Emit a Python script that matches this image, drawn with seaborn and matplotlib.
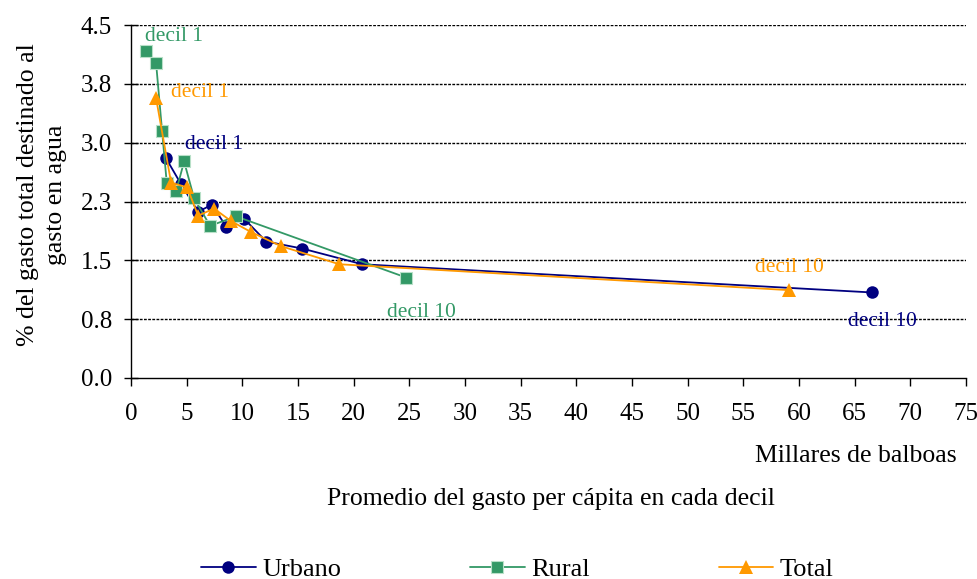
import matplotlib
matplotlib.use("Agg")
import matplotlib.pyplot as plt
import seaborn as sns
import pandas as pd

urbano_x = [3.15, 4.5, 6.03, 7.28, 8.54, 10.16, 12.14, 15.38, 20.77, 66.6]
urbano_y = [2.80, 2.47, 2.12, 2.21, 1.93, 2.03, 1.74, 1.65, 1.45, 1.09]
rural_x = [1.35, 2.25, 2.79, 3.21, 4.05, 4.77, 5.67, 7.10, 9.44, 24.73]
rural_y = [4.17, 4.02, 3.15, 2.49, 2.38, 2.76, 2.29, 1.94, 2.06, 1.28]
total_x = [2.25, 3.60, 5.04, 6.03, 7.46, 8.99, 10.79, 13.49, 18.71, 59.1]
total_y = [3.57, 2.49, 2.43, 2.07, 2.16, 2.00, 1.86, 1.68, 1.45, 1.12]

series_names = ["Urbano", "Rural", "Total"]
yticks = [0.0, 0.75, 1.5, 2.25, 3.0, 3.75, 4.5]
ytick_labels = ["0.0", "0.8", "1.5", "2.3", "3.0", "3.8", "4.5"]
xticks = list(range(0, 80, 5))

sns.set_theme(style="white")
plt.rcParams['font.family'] = ['Liberation Serif', 'DejaVu Serif']
plt.rcParams['text.color'] = 'black'
plt.rcParams['axes.labelcolor'] = 'black'
plt.rcParams['xtick.color'] = 'black'
plt.rcParams['ytick.color'] = 'black'

colors = {"Urbano": "#000080", "Rural": "#339966", "Total": "#FF9900"}
markers = {"Urbano": "o", "Rural": "s", "Total": "^"}
msize = {"Urbano": 9.0, "Rural": 8.4, "Total": 10.0}

data = {"Urbano": (urbano_x, urbano_y), "Rural": (rural_x, rural_y), "Total": (total_x, total_y)}

fig = plt.figure(figsize=(9.78, 5.79), dpi=100)
ax = fig.add_axes([131 / 978, (579 - 378) / 579, (966 - 131) / 978, (378 - 25) / 579])

for name in series_names:
    xs, ys = data[name]
    df = pd.DataFrame({"x": xs, "y": ys})
    mec = "#b8e0c8" if name == "Rural" else colors[name]
    sns.lineplot(data=df, x="x", y="y", ax=ax, sort=False, color=colors[name],
                 marker=markers[name], markersize=msize[name], markeredgecolor=mec,
                 markeredgewidth=0.8 if name == "Rural" else 0, linewidth=1.3, label=name,
                 estimator=None)

ax.set_xlim(0, 75)
ax.set_ylim(0, 4.5)
ax.set_xticks(xticks)
ax.set_xticklabels([str(v) for v in xticks])
ax.set_yticks(yticks)
ax.set_yticklabels(ytick_labels)
for y in yticks[1:]:
    ax.axhline(y, color="black", linestyle=(0, (2, 1)), linewidth=1, zorder=0)

for s in ["top", "right"]:
    ax.spines[s].set_visible(False)
for s in ["left", "bottom"]:
    ax.spines[s].set_color("black")
    ax.spines[s].set_linewidth(1)
ax.tick_params(axis="y", direction="inout", length=10, width=1, labelsize=18, pad=8.5, left=True)
ax.tick_params(axis="x", direction="out", length=5.8, width=1, labelsize=18, pad=12, bottom=True)
ax.set_xlabel("")
ax.set_ylabel("")

fig.text(42 / 978, (579 - 195) / 579, "% del gasto total destinado al\ngasto en agua", fontsize=18.5,
         rotation=90, ha="center", va="center", multialignment="center", linespacing=1.3)

# annotations
ax.text(3.82, 4.35, "decil 1", color=colors["Rural"], fontsize=15.5, ha="center", va="center")
ax.text(6.16, 3.635, "decil 1", color=colors["Total"], fontsize=15.5, ha="center", va="center")
ax.text(7.46, 2.975, "decil 1", color=colors["Urbano"], fontsize=15.5, ha="center", va="center")
ax.text(59.1, 1.41, "decil 10", color=colors["Total"], fontsize=15.5, ha="center", va="center")
ax.text(67.5, 0.725, "decil 10", color=colors["Urbano"], fontsize=15.5, ha="center", va="center")
ax.text(26.1, 0.84, "decil 10", color=colors["Rural"], fontsize=15.5, ha="center", va="center")

fig.text(957 / 978, (579 - 456) / 579, "Millares de balboas", fontsize=18.5, ha="right", va="center")
fig.text(551 / 978, 0.139, "Promedio del gasto per cápita en cada decil", fontsize=18.5, ha="center", va="center")

handles, labels = ax.get_legend_handles_labels()
ax.get_legend().remove()
fig.legend(handles, labels, loc="center", bbox_to_anchor=(517.5 / 978, 0.017), ncol=3, frameon=False,
           fontsize=19, columnspacing=4.9, handlelength=2.05, handletextpad=0.25, borderpad=0)

fig.savefig("out.png", dpi=100)
